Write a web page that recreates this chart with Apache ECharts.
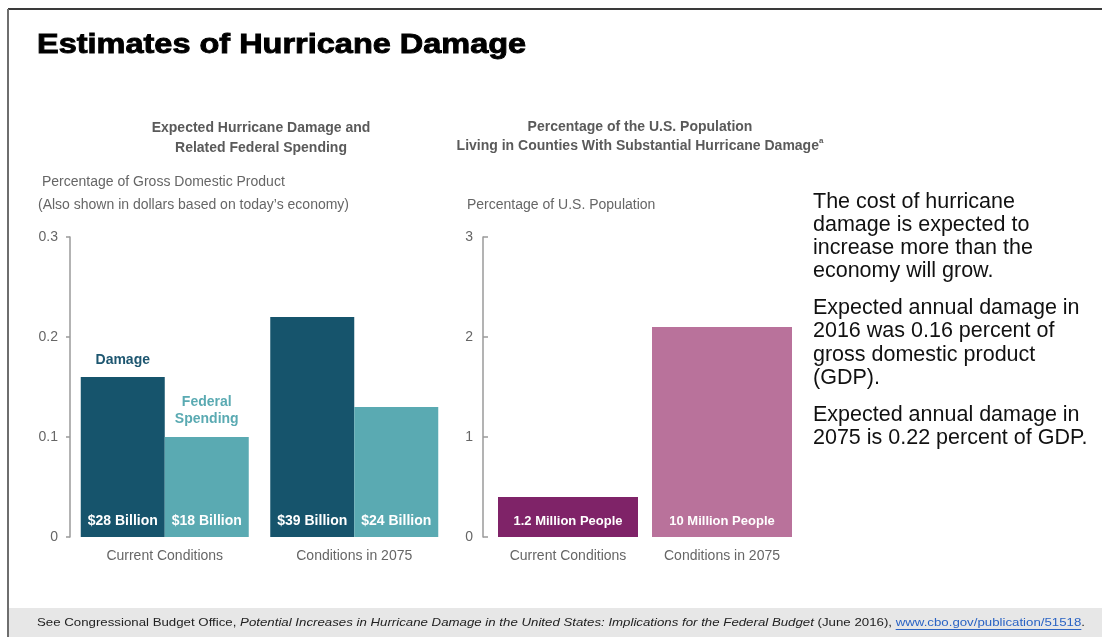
<!DOCTYPE html>
<html>
<head>
<meta charset="utf-8">
<title>Estimates of Hurricane Damage</title>
<script src="https://cdn.jsdelivr.net/npm/echarts@6/dist/echarts.min.js"></script>
<style>
  html, body { margin: 0; padding: 0; background: #ffffff; }
  #chart { width: 1102px; height: 637px; }
</style>
</head>
<body>
<div id="chart"></div>
<script>
// Categories shared by both panels
const categories = ['Current Conditions', 'Conditions in 2075'];

// Left panel: percentage of GDP
const damagePct = [0.16, 0.22];
const federalPct = [0.10, 0.13];
const damageDollars = ['$28 Billion', '$39 Billion'];
const federalDollars = ['$18 Billion', '$24 Billion'];

// Right panel: percentage of U.S. population
const populationPct = [0.4, 2.1];
const populationPeople = ['1.2 Million People', '10 Million People'];

// Axis ticks
const gdpTicks = { min: 0, max: 0.3, interval: 0.1 };
const popTicks = { min: 0, max: 3, interval: 1 };

const SANS = '"Liberation Sans", Arial, Helvetica, sans-serif';
const GRAY = '#666666';
const DARK_TEAL = '#16546c';
const LIGHT_TEAL = '#5aaab2';
const DARK_PLUM = '#7f2368';
const LIGHT_PLUM = '#b9729b';

const chart = echarts.init(document.getElementById('chart'), null, { renderer: 'canvas' });

// Footer segments, stretched to span the band, with a measured underline beneath the link
const footerFont = 11.6;
const footerParts = [
  { t: 'See Congressional Budget Office, ', s: 'n' },
  { t: 'Potential Increases in Hurricane Damage in the United States: Implications for the Federal Budget', s: 'i' },
  { t: ' (June 2016), ', s: 'n' },
  { t: 'www.cbo.gov/publication/51518', s: 'l' },
  { t: '.', s: 'n' }
];
const measureCtx = document.createElement('canvas').getContext('2d');
function textWidth(str, italic) {
  measureCtx.font = (italic ? 'italic ' : '') + footerFont + 'px ' + SANS;
  return measureCtx.measureText(str).width;
}
const footerX = 37;
const footerRight = 1085;
const footerY = 623;
let linkStart = 0, linkWidth = 0, cursor = 0;
footerParts.forEach(p => {
  const w = textWidth(p.t, p.s === 'i');
  if (p.s === 'l') { linkStart = cursor; linkWidth = w; }
  cursor += w;
});
const footerScale = (footerRight - footerX) / cursor;
const footerRich = footerParts.map(p => '{' + p.s + '|' + p.t + '}').join('');

function barLabelInside(texts, size) {
  return {
    show: true,
    position: 'insideBottom',
    distance: 9,
    color: '#ffffff',
    fontFamily: SANS,
    fontWeight: 'bold',
    fontSize: size,
    formatter: p => texts[p.dataIndex]
  };
}

const option = {
  backgroundColor: '#ffffff',
  animation: false,
  grid: [
    { left: 70, top: 237, width: 379, height: 300 },
    { left: 491, top: 237, width: 308, height: 300 }
  ],
  xAxis: [
    {
      type: 'category', gridIndex: 0, data: categories,
      axisLine: { show: false }, axisTick: { show: false },
      axisLabel: { color: GRAY, fontFamily: SANS, fontSize: 14, margin: 12 }
    },
    {
      type: 'category', gridIndex: 1, data: categories,
      axisLine: { show: false }, axisTick: { show: false },
      axisLabel: { color: GRAY, fontFamily: SANS, fontSize: 14, margin: 12 }
    }
  ],
  yAxis: [
    {
      type: 'value', gridIndex: 0,
      min: gdpTicks.min, max: gdpTicks.max, interval: gdpTicks.interval,
      splitLine: { show: false },
      axisLine: { show: true, lineStyle: { color: '#9a9a9a', width: 1.5 } },
      axisTick: { show: true, length: 4, lineStyle: { color: '#9a9a9a', width: 1.5 } },
      axisLabel: { color: GRAY, fontFamily: SANS, fontSize: 14, margin: 12 }
    },
    {
      type: 'value', gridIndex: 1, offset: 8,
      min: popTicks.min, max: popTicks.max, interval: popTicks.interval,
      splitLine: { show: false },
      axisLine: { show: true, lineStyle: { color: '#9a9a9a', width: 1.5 } },
      axisTick: { show: true, inside: true, length: 5, lineStyle: { color: '#9a9a9a', width: 1.5 } },
      axisLabel: { color: GRAY, fontFamily: SANS, fontSize: 14, margin: 10 }
    }
  ],
  series: [
    {
      name: 'Damage', type: 'bar', xAxisIndex: 0, yAxisIndex: 0,
      data: damagePct, barWidth: 84, barGap: '0%',
      itemStyle: { color: DARK_TEAL },
      label: barLabelInside(damageDollars, 14),
      markPoint: {
        symbol: 'rect', symbolSize: 1,
        itemStyle: { color: 'rgba(0,0,0,0)' },
        label: {
          show: true, position: 'top', distance: 9,
          color: '#1d5670', fontFamily: SANS, fontWeight: 'bold', fontSize: 14,
          formatter: 'Damage'
        },
        data: [{ coord: [0, damagePct[0]] }]
      }
    },
    {
      name: 'Federal Spending', type: 'bar', xAxisIndex: 0, yAxisIndex: 0,
      data: federalPct, barWidth: 84, barGap: '0%',
      itemStyle: { color: LIGHT_TEAL },
      label: barLabelInside(federalDollars, 14),
      markPoint: {
        symbol: 'rect', symbolSize: 1,
        itemStyle: { color: 'rgba(0,0,0,0)' },
        label: {
          show: true, position: 'top', distance: 9,
          color: LIGHT_TEAL, fontFamily: SANS, fontWeight: 'bold', fontSize: 14,
          lineHeight: 17, align: 'center',
          formatter: 'Federal\nSpending'
        },
        data: [{ coord: [0, federalPct[0]] }]
      }
    },
    {
      name: 'Population', type: 'bar', xAxisIndex: 1, yAxisIndex: 1,
      barWidth: 140,
      data: populationPct.map((v, i) => ({
        value: v,
        itemStyle: { color: i === 0 ? DARK_PLUM : LIGHT_PLUM }
      })),
      label: barLabelInside(populationPeople, 13)
    }
  ],
  graphic: [
    // outer frame lines
    { type: 'line', shape: { x1: 8, y1: 9, x2: 1102, y2: 9 }, style: { stroke: '#3a3a3a', lineWidth: 2 }, silent: true },
    { type: 'line', shape: { x1: 8, y1: 9, x2: 8, y2: 637 }, style: { stroke: '#6e6e6e', lineWidth: 2 }, silent: true },
    // footer band
    { type: 'rect', shape: { x: 9, y: 608, width: 1093, height: 29 }, style: { fill: '#e7e7e7' }, silent: true },
    {
      type: 'group', x: footerX, y: footerY, scaleX: footerScale, silent: true,
      children: [
        {
          type: 'text', x: 0, y: 0,
          style: {
            text: footerRich, fill: '#222222', font: footerFont + 'px ' + SANS, verticalAlign: 'middle',
            rich: {
              n: { fontSize: footerFont, fontFamily: SANS, fill: '#222222' },
              i: { fontSize: footerFont, fontFamily: SANS, fontStyle: 'italic', fill: '#222222' },
              l: { fontSize: footerFont, fontFamily: SANS, fill: '#2a63c4' }
            }
          }
        },
        { type: 'line', shape: { x1: linkStart, y1: 6.5, x2: linkStart + linkWidth, y2: 6.5 }, style: { stroke: '#2a63c4', lineWidth: 1 } }
      ]
    },
    // main heading
    {
      type: 'text', x: 37, y: 31, silent: true, scaleX: 1.16,
      style: { text: 'Estimates of Hurricane Damage', fill: '#000000', stroke: '#000000', lineWidth: 0.9, font: 'bold 28px ' + SANS }
    },
    // panel headings
    {
      type: 'text', x: 261, y: 138, silent: true,
      style: {
        text: 'Expected Hurricane Damage and\nRelated Federal Spending',
        fill: '#5a5a5a', font: 'bold 14px ' + SANS, align: 'center', verticalAlign: 'middle', lineHeight: 20
      }
    },
    {
      type: 'text', x: 640, y: 136.5, silent: true,
      style: {
        text: 'Percentage of the U.S. Population\nLiving in Counties With Substantial Hurricane Damage{sup|a}',
        fill: '#5a5a5a', font: 'bold 14px ' + SANS, align: 'center', verticalAlign: 'middle', lineHeight: 19,
        rich: { sup: { fontSize: 8, fontWeight: 'bold', fill: '#5a5a5a', verticalAlign: 'top', lineHeight: 19 } }
      }
    },
    // unit captions
    {
      type: 'text', left: 42, top: 175, silent: true,
      style: { text: 'Percentage of Gross Domestic Product', fill: '#666666', font: '14px ' + SANS }
    },
    {
      type: 'text', left: 38, top: 198, silent: true,
      style: { text: '(Also shown in dollars based on today\u2019s economy)', fill: '#666666', font: '14px ' + SANS }
    },
    {
      type: 'text', left: 467, top: 198, silent: true,
      style: { text: 'Percentage of U.S. Population', fill: '#666666', font: '14px ' + SANS }
    },
    // commentary
    {
      type: 'text', left: 813, top: 190, silent: true,
      style: { text: 'The cost of hurricane\ndamage is expected to\nincrease more than the\neconomy will grow.', fill: '#111111', font: '21.5px ' + SANS, lineHeight: 23.3 }
    },
    {
      type: 'text', left: 813, top: 296.5, silent: true,
      style: { text: 'Expected annual damage in\n2016 was 0.16 percent of\ngross domestic product\n(GDP).', fill: '#111111', font: '21.5px ' + SANS, lineHeight: 23.3 }
    },
    {
      type: 'text', left: 813, top: 403.5, silent: true,
      style: { text: 'Expected annual damage in\n2075 is 0.22 percent of GDP.', fill: '#111111', font: '21.5px ' + SANS, lineHeight: 23.3 }
    }
  ]
};

chart.setOption(option);
</script>
</body>
</html>
